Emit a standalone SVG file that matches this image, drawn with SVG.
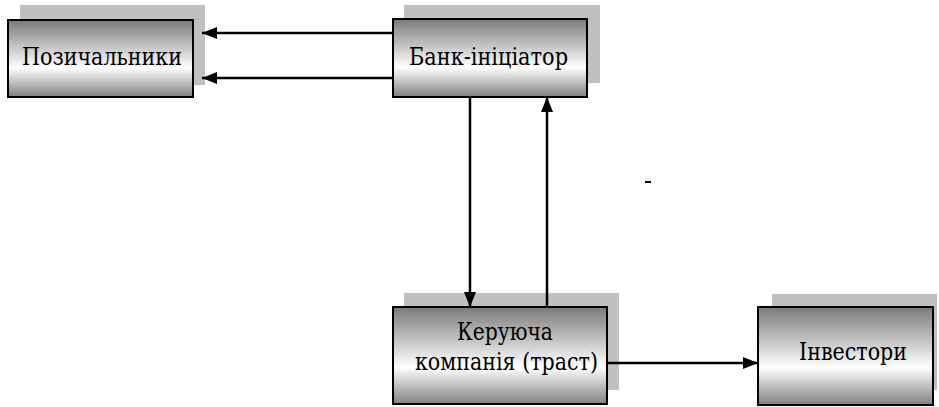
<svg xmlns="http://www.w3.org/2000/svg" width="939" height="407" viewBox="0 0 939 407">
<defs>
<linearGradient id="g" x1="0" y1="0" x2="0" y2="1">
<stop offset="0" stop-color="#7a7a7a"/>
<stop offset="0.62" stop-color="#ffffff"/>
<stop offset="1" stop-color="#808080"/>
</linearGradient>
<marker id="ah" viewBox="0 0 15 12" refX="15" refY="6" markerWidth="15" markerHeight="12" markerUnits="userSpaceOnUse" orient="auto">
<path d="M0,0 L15,6 L0,12 z" fill="#000"/>
</marker>
</defs>
<style>
.sh{fill:#c0c0c0}
.bx{fill:url(#g);stroke:#000;stroke-width:2}
.c{stroke:#000;stroke-width:2.5;fill:none;marker-end:url(#ah)}
text{font-family:"DejaVu Serif", "Liberation Serif", serif;font-size:24px;fill:#000}
</style>
<rect width="939" height="407" fill="#fff"/>
<g id="borrowers">
<rect class="sh" x="20" y="5" width="185" height="80"/>
<rect class="bx" x="8" y="20" width="185" height="77"/>
<text x="22" y="65" textLength="160" lengthAdjust="spacingAndGlyphs">Позичальники</text>
</g>
<g id="bank">
<rect class="sh" x="404" y="5" width="196" height="78"/>
<rect class="bx" x="393" y="19" width="194" height="78"/>
<text x="409" y="65" textLength="159" lengthAdjust="spacingAndGlyphs">Банк-ініціатор</text>
</g>
<g id="trust">
<rect class="sh" x="404" y="293" width="215" height="97"/>
<rect class="bx" x="393" y="307" width="214" height="97"/>
<text x="457" y="340" textLength="96" lengthAdjust="spacingAndGlyphs">Керуюча</text>
<text x="415" y="370" textLength="183" lengthAdjust="spacingAndGlyphs">компанія (траст)</text>
</g>
<g id="investors">
<rect class="sh" x="772" y="294" width="165" height="96"/>
<rect class="bx" x="758" y="307" width="175" height="98"/>
<text x="799" y="360" textLength="108" lengthAdjust="spacingAndGlyphs">Інвестори</text>
</g>
<g id="connectors">
<path class="c" d="M393,33 H202"/>
<path class="c" d="M393,78 H202"/>
<path class="c" d="M470,97 V307"/>
<path class="c" d="M547,307 V97"/>
<path class="c" d="M607,363 H758"/>
</g>
<rect x="645" y="181" width="6" height="2" fill="#000"/>
</svg>
